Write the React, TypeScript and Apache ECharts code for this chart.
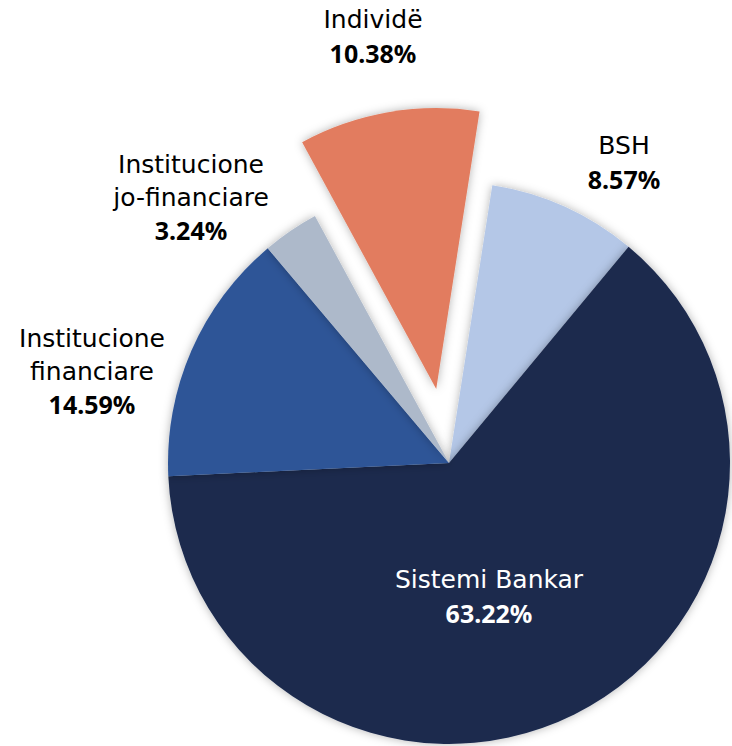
import React, { useEffect, useRef } from "react";
import * as echarts from "echarts";

// Data (order: clockwise from the exploded slice)
const categories = [
  "Individë",
  "BSH",
  "Sistemi Bankar",
  "Institucione\nfinanciare",
  "Institucione\njo-financiare",
];
const shares = [10.38, 8.57, 63.22, 14.59, 3.24];
const explodedIndex = 0;

// Styling / layout (kept apart from the data)
const colors = ["#e27c5e", "#b4c7e7", "#1b2a4e", "#2e5597", "#adb9ca"];
const labelColors = ["#000000", "#000000", "#ffffff", "#000000", "#000000"];
const labelCenters: [number, number][] = [
  [373, 36],
  [624, 162],
  [489, 596],
  [92, 371],
  [191, 197],
];

const richFor = (i: number) => ({
  n: {
    fontFamily: "DejaVu Sans",
    fontSize: 25,
    fontWeight: "normal",
    color: labelColors[i],
    lineHeight: 33,
    align: "center",
  },
  v: {
    fontFamily: "Noto Sans",
    fontSize: 25,
    fontWeight: "bold",
    color: labelColors[i],
    lineHeight: 33,
    align: "center",
  },
});

const fmt = (p: any) =>
  p.name
    .split("\n")
    .map((s: string) => `{n|${s}}`)
    .join("\n") + `\n{v|${p.value.toFixed(2)}%}`;

const layout = (p: any) => ({
  x: labelCenters[p.dataIndex][0],
  y: labelCenters[p.dataIndex][1],
  align: "center",
  verticalAlign: "middle",
});

export default function App() {
  const ref = useRef<HTMLDivElement>(null);
  useEffect(() => {
    if (!ref.current) return;
    const chart = echarts.init(ref.current, null, { renderer: "svg" });
    const common = {
      type: "pie",
      center: [449, 463],
      radius: 281,
      startAngle: 118.5,
      clockwise: true,
      avoidLabelOverlap: false,
      emphasis: { disabled: true },
      labelLine: { show: false },
      labelLayout: layout,
    };
    const mainData = categories.map((name, i) => ({
      name,
      value: shares[i],
      selected: i === explodedIndex,
      itemStyle: { color: colors[i] },
      label: {
        show: i !== explodedIndex,
        position: "outside",
        formatter: fmt,
        rich: richFor(i),
      },
    }));
    const labelData = categories.map((name, i) => ({
      name,
      value: shares[i],
      itemStyle: { color: "rgba(0,0,0,0)" },
      label: {
        show: i === explodedIndex,
        position: "outside",
        formatter: fmt,
        rich: richFor(i),
      },
    }));
    chart.setOption({
      animation: false,
      backgroundColor: "#ffffff",
      series: [
        {
          ...common,
          selectedMode: "single",
          selectedOffset: 75,
          select: { itemStyle: {} },
          itemStyle: {
            shadowBlur: 10,
            shadowColor: "rgba(0,0,0,0.3)",
            borderWidth: 0,
          },
          data: mainData,
        },
        {
          ...common,
          silent: true,
          selectedMode: false,
          itemStyle: { borderWidth: 0, shadowBlur: 0 },
          data: labelData,
        },
      ],
    });
    return () => chart.dispose();
  }, []);
  return (
    <div
      ref={ref}
      style={{ position: "fixed", left: 0, top: 0, width: 732, height: 746 }}
    />
  );
}
